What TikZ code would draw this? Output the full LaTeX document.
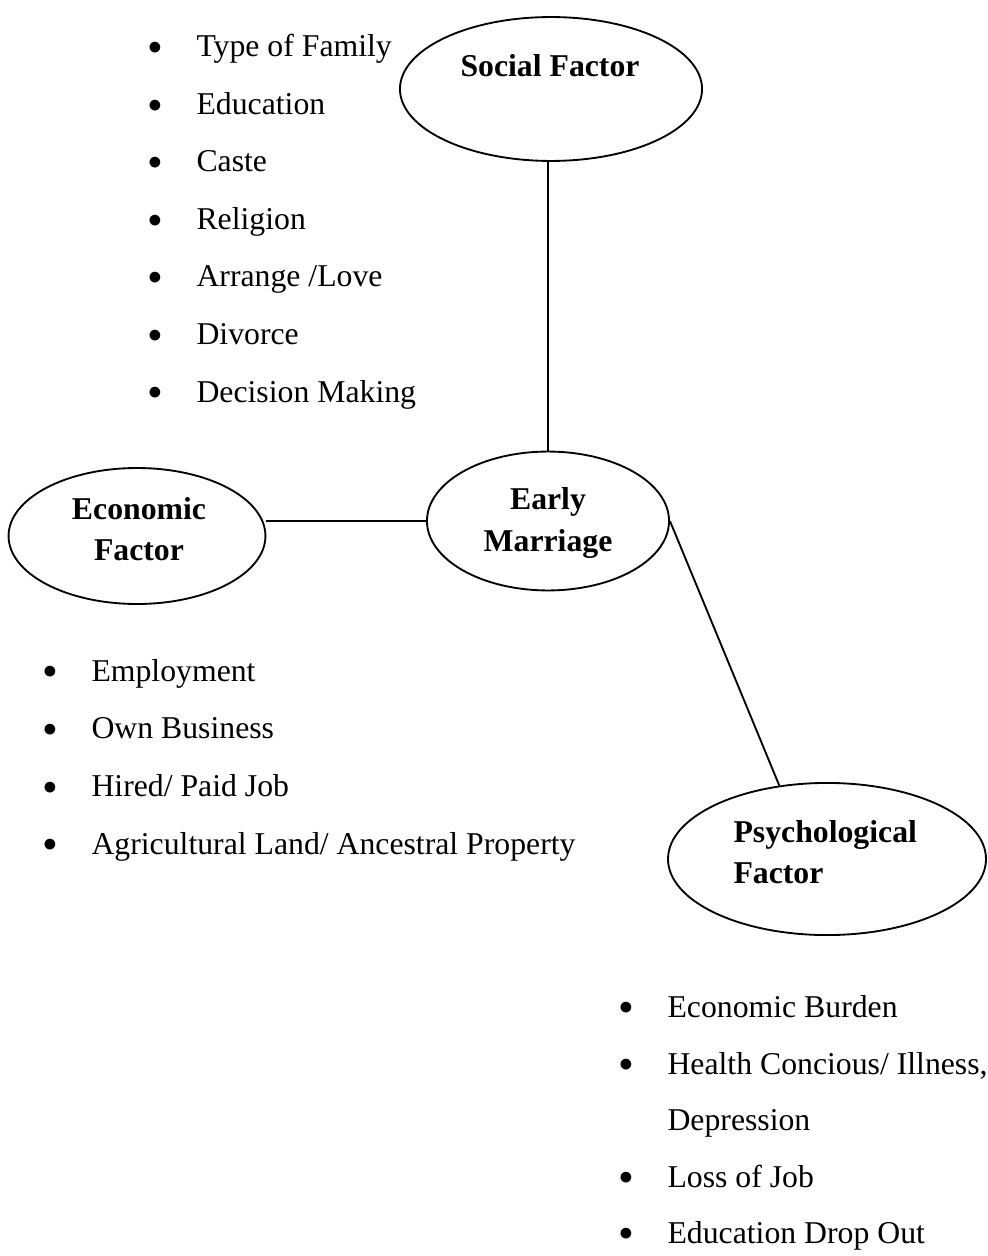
\documentclass[tikz,border=0pt]{standalone}
\usepackage{fontspec}
\setmainfont{Liberation Serif}
\usetikzlibrary{shapes.geometric}
% bullet hanging left of the item text
\newcommand{\bul}{\llap{\makebox[0pt]{\smash{\raisebox{-2.2pt}{\fontsize{17}{17}\selectfont\textbullet}}}\hspace{15.5pt}}}

\begin{document}
\begin{tikzpicture}[x=0.378pt, y=-0.378pt,
    factor/.style={draw, ellipse, line width=0.7pt, inner sep=0pt},
    ftext/.style={font=\fontsize{12}{14}\selectfont\bfseries, inner sep=0pt, anchor=base},
    entry/.style={font=\fontsize{12}{14}\selectfont, inner sep=0pt, anchor=base west},
    link/.style={line width=0.7pt},
  ]
  \useasboundingbox (0,0) rectangle (988,1256);

  % factors
  \node[factor, minimum width=114.2pt, minimum height=54.4pt] (soc) at (551,89) {};
  \node[factor, minimum width=91.5pt, minimum height=52.5pt] (early) at (548,521) {};
  \node[factor, minimum width=97.1pt, minimum height=51.4pt] (econ) at (137,536) {};
  \node[factor, minimum width=120.2pt, minimum height=57.5pt] (psych) at (827,859) {};

  \node[ftext] (soct) at (550,77) {Social Factor};
  \node[ftext] (earlyt1) at (548,509) {Early};
  \node[ftext] (earlyt2) at (548,551) {Marriage};
  \node[ftext] (econt1) at (139,519) {Economic};
  \node[ftext] (econt2) at (139,560) {Factor};
  \node[ftext, anchor=base west] (psycht1) at (733,842) {Psychological};
  \node[ftext, anchor=base west] (psycht2) at (733,883) {Factor};

  % links
  \draw[link] (early.north) -- (early.north |- soc.south);
  \draw[link] (early.west) -- (econ.east |- early.west);
  \draw[link] (early.east) -- (psych.123);

  % lists
  \foreach \txt [count=\i] in {Type of Family, Education, Caste, Religion,
      Arrange /Love, Divorce, Decision Making}
    \node[entry] (socl\i) at (196,{57.5*\i-0.5}) {\bul\txt};
  \foreach \txt [count=\i] in {Employment, Own Business, Hired/ Paid Job,
      Agricultural Land/ Ancestral Property}
    \node[entry] (econl\i) at (91,{681+57.7*(\i-1)}) {\bul\txt};
  \node[entry] (psychl1) at (667,1017) {\bul Economic Burden};
  \node[entry] (psychl2) at (667,1074) {\bul Health Concious/ Illness,};
  \node[entry] (psychl3) at (667,1130) {Depression};
  \node[entry] (psychl4) at (667,1187) {\bul Loss of Job};
  \node[entry] (psychl5) at (667,1243) {\bul Education Drop Out};
\end{tikzpicture}
\end{document}
